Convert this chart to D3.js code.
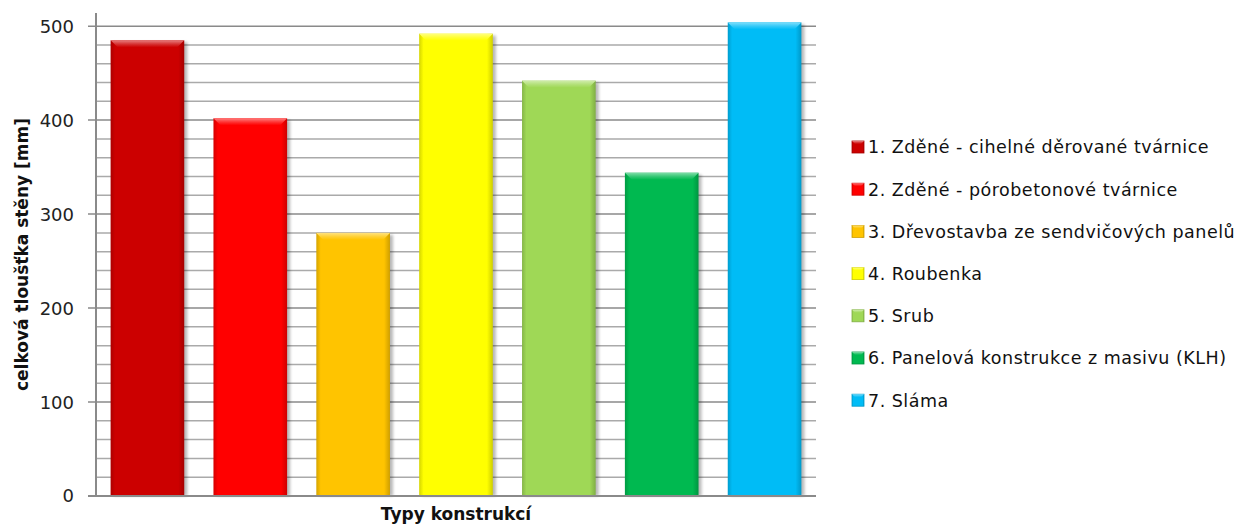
<!DOCTYPE html>
<html>
<head>
<meta charset="utf-8">
<script src="https://cdn.jsdelivr.net/npm/d3@7/dist/d3.min.js"></script>
<style>
  html, body { margin: 0; padding: 0; background: #fff; }
  svg { display: block; }
  text { font-family: "DejaVu Sans", Verdana, sans-serif; }
</style>
</head>
<body>
<svg id="chart" width="1244" height="526"></svg>
<script>
// Wall thickness by construction type
const categories = [
  "1. Zděné - cihelné děrované tvárnice",
  "2. Zděné - pórobetonové tvárnice",
  "3. Dřevostavba ze sendvičových panelů",
  "4. Roubenka",
  "5. Srub",
  "6. Panelová konstrukce z masivu (KLH)",
  "7. Sláma"
];
const values = [485, 402, 280, 492, 442, 344, 504];
const colors = ["#cc0000", "#ff0000", "#ffc400", "#ffff00", "#9fd856", "#00b950", "#00bcf6"];
const yTicks = [0, 100, 200, 300, 400, 500];
const yMinorStep = 20;
const yAxisMax = 514;
const yTitle = "celková tloušťka stěny [mm]";
const xTitle = "Typy konstrukcí";

const svg = d3.select("#chart");
const plot = { left: 96, right: 816, top: 13, bottom: 496 };

const x = d3.scaleBand()
  .domain(d3.range(categories.length))
  .range([plot.left, plot.right])
  .paddingInner(0.284)
  .paddingOuter(0.142);

const y = d3.scaleLinear()
  .domain([0, yAxisMax])
  .range([plot.bottom, plot.top]);

// gradients for bevelled bars
const defs = svg.append("defs");
colors.forEach((c, i) => {
  const base = d3.color(c);
  const g = defs.append("linearGradient").attr("id", "body" + i)
    .attr("x1", 0).attr("x2", 1).attr("y1", 0).attr("y2", 0);
  g.append("stop").attr("offset", 0).attr("stop-color", base.darker(0.5));
  g.append("stop").attr("offset", 0.06).attr("stop-color", base);
  g.append("stop").attr("offset", 0.92).attr("stop-color", base);
  g.append("stop").attr("offset", 1).attr("stop-color", base.darker(0.6));
  const t = defs.append("linearGradient").attr("id", "top" + i)
    .attr("x1", 0).attr("x2", 0).attr("y1", 0).attr("y2", 1);
  t.append("stop").attr("offset", 0).attr("stop-color", d3.interpolateRgb(c, "#fff")(0.5));
  t.append("stop").attr("offset", 0.55).attr("stop-color", d3.interpolateRgb(c, "#fff")(0.2));
  t.append("stop").attr("offset", 1).attr("stop-color", base);
});
const blur = defs.append("filter").attr("id", "shadow")
  .attr("x", "-20%").attr("y", "-20%").attr("width", "140%").attr("height", "140%");
blur.append("feGaussianBlur").attr("stdDeviation", 1.6);

// grid: minor then major lines
const minorTicks = d3.range(0, 501, yMinorStep).filter(v => !yTicks.includes(v));
svg.append("g").selectAll("line").data(minorTicks).join("line")
  .attr("x1", plot.left).attr("x2", plot.right)
  .attr("y1", d => y(d)).attr("y2", d => y(d))
  .attr("stroke", "#aaaaaa").attr("stroke-width", 1.5);
svg.append("g").selectAll("line").data(yTicks).join("line")
  .attr("x1", plot.left - 8).attr("x2", plot.right)
  .attr("y1", d => y(d)).attr("y2", d => y(d))
  .attr("stroke", "#8a8a8a").attr("stroke-width", 1.5);

// y axis line
svg.append("line")
  .attr("x1", plot.left).attr("x2", plot.left)
  .attr("y1", y(yAxisMax)).attr("y2", y(0))
  .attr("stroke", "#8a8a8a").attr("stroke-width", 2);

// tick labels
svg.append("g").selectAll("text").data(yTicks).join("text")
  .attr("x", 74).attr("y", d => y(d))
  .attr("dy", "0.36em")
  .attr("text-anchor", "end")
  .attr("font-size", 18)
  .attr("fill", "#222")
  .text(d => d);

// bars
const bars = svg.append("g").selectAll("g").data(values).join("g");
const bw = x.bandwidth();
bars.append("rect")
  .attr("x", (d, i) => x(i) + 3).attr("y", d => y(d) + 2)
  .attr("width", bw).attr("height", d => y(0) - y(d) - 2)
  .attr("fill", "#000").attr("opacity", 0.28)
  .attr("filter", "url(#shadow)");
bars.append("rect")
  .attr("x", (d, i) => x(i)).attr("y", d => y(d))
  .attr("width", bw).attr("height", d => y(0) - y(d))
  .attr("fill", (d, i) => `url(#body${i})`);
bars.append("path")
  .attr("d", (d, i) => {
    const x0 = x(i), x1 = x(i) + bw, y0 = y(d), b = 7;
    return `M${x0},${y0}L${x1},${y0}L${x1 - b},${y0 + b}L${x0 + b},${y0 + b}Z`;
  })
  .attr("fill", (d, i) => `url(#top${i})`);

// x axis line
svg.append("line")
  .attr("x1", plot.left - 8).attr("x2", plot.right)
  .attr("y1", y(0)).attr("y2", y(0))
  .attr("stroke", "#8a8a8a").attr("stroke-width", 2);

// axis titles
svg.append("text")
  .attr("transform", `translate(28,${(plot.top + plot.bottom) / 2}) rotate(-90)`)
  .attr("text-anchor", "middle")
  .attr("font-size", 17).attr("font-weight", "bold")
  .attr("fill", "#111")
  .text(yTitle);
svg.append("text")
  .attr("x", (plot.left + plot.right) / 2).attr("y", 520)
  .attr("text-anchor", "middle")
  .attr("font-size", 17).attr("font-weight", "bold")
  .attr("fill", "#111")
  .text(xTitle);

// legend
const legend = svg.append("g").attr("transform", "translate(852,147)");
const items = legend.selectAll("g").data(categories).join("g")
  .attr("transform", (d, i) => `translate(0,${i * 42.2})`);
items.append("rect")
  .attr("x", 0).attr("y", -6).attr("width", 12).attr("height", 12)
  .attr("fill", (d, i) => `url(#body${i})`)
  .attr("stroke", (d, i) => d3.color(colors[i]).darker(0.6))
  .attr("stroke-width", 0.8);
items.append("path")
  .attr("d", "M0,-6L12,-6L9,-3L3,-3Z")
  .attr("fill", (d, i) => `url(#top${i})`);
items.append("text")
  .attr("x", 16).attr("y", 0).attr("dy", "0.36em")
  .attr("font-size", 17.5)
  .attr("letter-spacing", 0.5)
  .attr("fill", "#111")
  .text(d => d);
</script>
</body>
</html>
